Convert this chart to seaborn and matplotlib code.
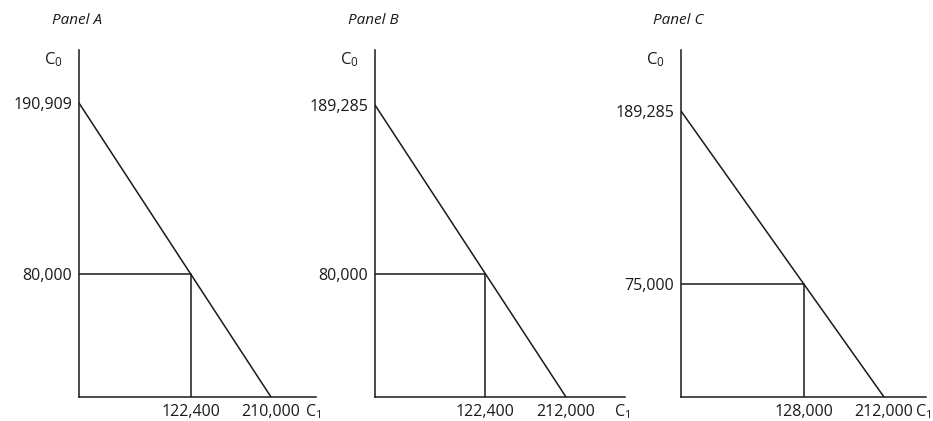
import pandas as pd
import matplotlib.pyplot as plt
import seaborn as sns

# Datos de los tres paneles
paneles = ['Panel A', 'Panel B', 'Panel C']
c0_intercepto = [190909, 189285, 189285]
c1_intercepto = [210000, 212000, 212000]
c0_punto = [80000, 80000, 75000]
c1_punto = [122400, 122400, 128000]

sns.set_style('white')
plt.rcParams['font.family'] = ['Open Sans', 'DejaVu Sans']
plt.rcParams['mathtext.fontset'] = 'custom'
plt.rcParams['mathtext.rm'] = 'Open Sans'
plt.rcParams['mathtext.it'] = 'Open Sans:italic'

fig = plt.figure(figsize=(9.33, 4.21), dpi=100)
W, H = 933, 421

# posiciones de los ejes en pixeles (izq, der) y factor de limites
bordes = [(79, 316), (375, 625), (681, 926)]
fx = [237 / 192, 250 / 191, 245 / 203]
fy = [347 / 294, 347 / 292, 347 / 286]
titulo_x = [52, 348, 653]
abajo, arriba = 397, 50
negro = '#1a1a1a'

for i in range(3):
    izq, der = bordes[i]
    ax = fig.add_axes([izq / W, (H - abajo) / H, (der - izq) / W, (abajo - arriba) / H])

    recta = pd.DataFrame({'C1': [0, c1_intercepto[i]], 'C0': [c0_intercepto[i], 0]})
    sns.lineplot(data=recta, x='C1', y='C0', ax=ax, color=negro, linewidth=1.1)

    caja = pd.DataFrame({'C1': [0, c1_punto[i], c1_punto[i]],
                         'C0': [c0_punto[i], c0_punto[i], 0]})
    sns.lineplot(data=caja, x='C1', y='C0', ax=ax, sort=False, estimator=None,
                 errorbar=None, color=negro, linewidth=1.1)

    ax.set_xlim(0, c1_intercepto[i] * fx[i])
    ax.set_ylim(0, c0_intercepto[i] * fy[i])

    ax.set_xticks([c1_punto[i], c1_intercepto[i]])
    ax.set_xticklabels([f'{v:,}' for v in [c1_punto[i], c1_intercepto[i]]])
    ax.set_yticks([c0_punto[i], c0_intercepto[i]])
    ax.set_yticklabels([f'{v:,}' for v in [c0_punto[i], c0_intercepto[i]]])
    ax.tick_params(length=0, labelsize=11.5, colors=negro, pad=5)
    ax.set_xlabel('')
    ax.set_ylabel('')

    for lado in ['top', 'right']:
        ax.spines[lado].set_visible(False)
    for lado in ['left', 'bottom']:
        ax.spines[lado].set_color(negro)
        ax.spines[lado].set_linewidth(1.1)

    ax.annotate('$\\mathrm{C}_0$', xy=(0, 1), xycoords='axes fraction',
                xytext=(-12, -7), textcoords='offset points',
                ha='right', va='center', fontsize=12, color=negro)
    ax.annotate('$\\mathrm{C}_1$', xy=(1, 0), xycoords='axes fraction',
                xytext=(-8, -10.5), textcoords='offset points',
                ha='left', va='center', fontsize=11.5, color=negro)

    fig.text(titulo_x[i] / W, 1 - 20 / H, paneles[i], style='italic',
             fontsize=11, ha='left', va='center', color=negro)

plt.savefig('out.png', dpi=100)
